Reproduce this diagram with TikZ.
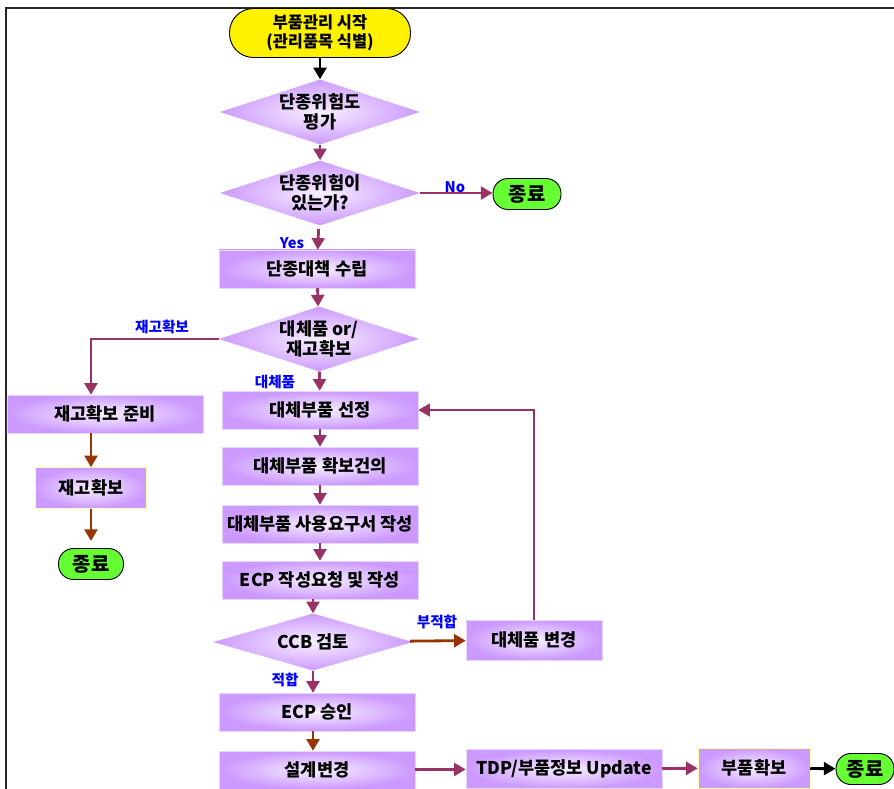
\documentclass[tikz,border=0pt]{standalone}
\usepackage{fontspec}
\setmainfont{Noto Sans CJK KR}
\usepackage{tikz}
\usetikzlibrary{arrows.meta, shapes.geometric}

\definecolor{boxout}{RGB}{204,153,255}
\definecolor{boxin}{RGB}{248,240,255}
\definecolor{boxline}{RGB}{232,214,255}
\definecolor{paleyellow}{RGB}{255,255,170}
\definecolor{flowred}{RGB}{153,51,102}
\definecolor{flowbrown}{RGB}{153,51,0}
\definecolor{endgreen}{RGB}{102,255,51}
\definecolor{labelblue}{RGB}{0,0,255}

\begin{document}
\begin{tikzpicture}[x=0.03cm, y=-0.03cm,
        stepbox/.style={rectangle, draw=boxline, inner color=boxin, outer color=boxout, minimum width=5.88cm, minimum height=1.14cm, inner sep=1pt, font=\fontsize{15pt}{17pt}\selectfont\bfseries},
        check/.style={diamond, aspect=3, inner color=boxin, outer color=boxout, minimum width=6cm, minimum height=1.95cm, inner sep=0pt, align=center, font=\fontsize{15pt}{17pt}\selectfont\bfseries},
        finish/.style={rectangle, rounded corners=0.45cm, draw=black, thick, fill=endgreen, minimum width=2.04cm, minimum height=0.93cm, inner sep=0pt, font=\fontsize{17pt}{19pt}\selectfont\bfseries},
        tag/.style={text=labelblue, inner sep=0pt, font=\fontsize{12.5pt}{14pt}\selectfont\bfseries},
        flow/.style={-{Triangle[length=10pt, width=11pt]}, line width=2.4pt, flowred},
        flowdark/.style={-{Triangle[length=10pt, width=11pt]}, line width=2.4pt, flowbrown},
        flowblack/.style={-{Triangle[length=10pt, width=11pt]}, line width=2.4pt, black}]
        \useasboundingbox (0,0) rectangle (894,789);
        \draw[line width=1.2pt, black!85] (6,789) -- (6,8) -- (894,8);

        \node (start) at (320,33)[rectangle, rounded corners=0.72cm, draw=black, thick, fill=yellow, minimum width=5.43cm, minimum height=1.47cm, inner sep=0pt, align=center, font=\fontsize{14pt}{16pt}\selectfont\bfseries] {부품관리 시작\\(관리품목 식별)};
        \node (risk-eval) at (320,112)[check] {단종위험도\\평가};
        \node (risk-check) at (320,193)[check] {단종위험이\\있는가?};
        \node (end-no) at (527,194)[finish] {종료};
        \node (plan) at (317,269)[stepbox] {단종대책 수립};
        \node (choice) at (319,339)[check] {대체품 or/\\재고확보};
        \node (stock-prep) at (105,414)[stepbox] {재고확보 준비};
        \node (stock) at (91,488)[stepbox, draw=paleyellow, minimum width=3.33cm, minimum height=1.23cm] {재고확보};
        \node (end-stock) at (91,564)[finish, minimum width=1.95cm] {종료};
        \node (select) at (320,410)[stepbox] {대체부품 선정};
        \node (propose) at (320,466)[stepbox] {대체부품 확보건의};
        \node (request) at (320,524)[stepbox] {대체부품 사용요구서 작성};
        \node (ecp-write) at (320,580)[stepbox] {ECP 작성요청 및 작성};
        \node (ccb) at (313,642)[check, minimum height=1.71cm] {CCB 검토};
        \node (change) at (534,640)[stepbox, minimum width=4.08cm, minimum height=1.2cm] {대체품 변경};
        \node (approve) at (317,712)[stepbox] {ECP 승인};
        \node (design) at (317,770)[stepbox] {설계변경};
        \node (tdp) at (564,769)[stepbox, minimum height=1.17cm] {TDP/부품정보 Update};
        \node (secure) at (754,768)[stepbox, draw=paleyellow, minimum width=3.36cm, minimum height=1.2cm] {부품확보};
        \node (end-main) at (865,769)[finish, minimum width=1.74cm] {종료};

        \node (tag-no) at (455,187)[tag] {No};
        \node (tag-yes) at (292,243)[tag] {Yes};
        \node (tag-stock) at (162,327)[tag] {재고확보};
        \node (tag-alt) at (275,382)[tag] {대체품};
        \node (tag-fail) at (437,622)[tag] {부적합};
        \node (tag-pass) at (285,680)[tag] {적합};

        \draw[flowblack] (start) -- (risk-eval);
        \draw[flow] (risk-eval) -- (risk-check);
        \draw[flow] (risk-check.east) -- (risk-check.east -| end-no.west);
        \draw[flow, shorten <=3pt] (risk-check) -- (plan);
        \draw[flow] (plan) -- (choice);
        \draw[flow] (choice.west) -| (stock-prep.north -| stock);
        \draw[flowdark] (stock-prep.south -| stock) -- (stock);
        \draw[flowdark, shorten >=6pt] (stock) -- (end-stock);
        \draw[flow] (choice) -- (select);
        \draw[flow] (select) -- (propose);
        \draw[flow] (propose) -- (request);
        \draw[flow] (request) -- (ecp-write);
        \draw[flow] (ecp-write.south -| ccb) -- (ccb);
        \draw[flowdark] (ccb) -- (change);
        \draw[flow, line width=1.6pt] (change.north) |- (select.east);
        \draw[flow] (ccb.south) -- (approve.north -| ccb);
        \draw[flowdark] (approve.south -| ccb) -- (design.north -| ccb);
        \draw[flow] (design) -- (tdp);
        \draw[flow] (tdp) -- (secure);
        \draw[flowblack] (secure) -- (end-main);
    \end{tikzpicture}
\end{document}
